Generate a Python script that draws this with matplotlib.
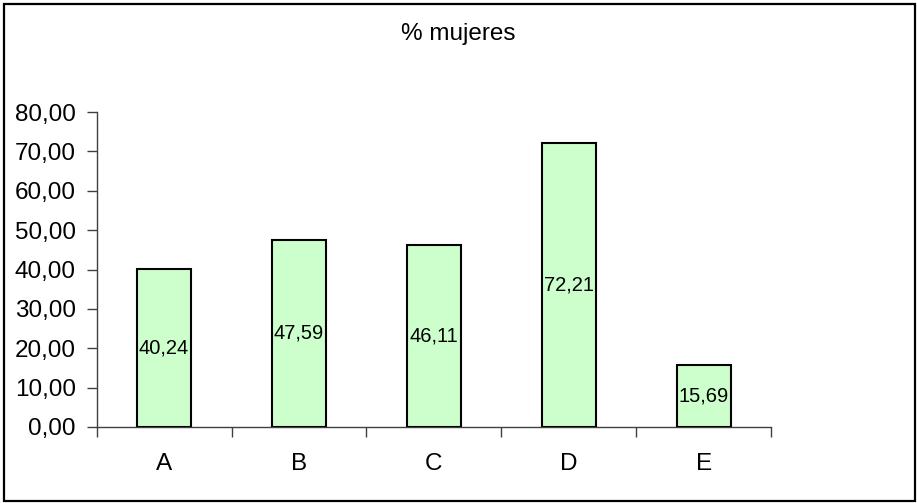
import matplotlib
matplotlib.use("Agg")
import matplotlib.pyplot as plt
from matplotlib.patches import Rectangle
from matplotlib.ticker import FixedLocator, FuncFormatter

plt.rcParams['font.family'] = ['Liberation Sans', 'DejaVu Sans']

categories = ["A", "B", "C", "D", "E"]
values = [40.24, 47.59, 46.11, 72.21, 15.69]
y_ticks = [0, 10, 20, 30, 40, 50, 60, 70, 80]
title = "% mujeres"


def comma(v, decimals=2):
    return f"{v:.{decimals}f}".replace(".", ",")


fig = plt.figure(figsize=(9.17, 5.03), dpi=100)
fig.patch.set_facecolor("white")

W, H = 917, 503
left, right, bottom, top = 96.5, 771.5, 427, 112
ax = fig.add_axes([left / W, (H - bottom) / H, (right - left) / W, (bottom - top) / H])

x = list(range(len(categories)))
bars = ax.bar(x, values, width=0.4, color="#CCFFCC", edgecolor="black",
              linewidth=1.5, zorder=3)
for xi, v in zip(x, values):
    ax.text(xi, v / 2, comma(v), ha="center", va="center", fontsize=14.5,
            color="black", zorder=4)

ax.set_xlim(-0.5, len(categories) - 0.5)
ax.set_ylim(0, 80)

ax.set_yticks(y_ticks)
ax.yaxis.set_major_formatter(FuncFormatter(lambda v, p: comma(v)))
ax.tick_params(axis="y", direction="out", length=7, width=1, color="#404040",
               labelsize=17.5, pad=8, labelcolor="black")

# category boundaries carry the tick marks, centres carry the labels
ax.xaxis.set_major_locator(FixedLocator([i - 0.5 for i in range(len(categories) + 1)]))
ax.xaxis.set_major_formatter(FuncFormatter(lambda v, p: ""))
ax.xaxis.set_minor_locator(FixedLocator(x))
ax.set_xticklabels(categories, minor=True)
ax.tick_params(axis="x", which="major", direction="out", length=7, width=1,
               color="#404040")
ax.tick_params(axis="x", which="minor", length=0, labelsize=17.5, pad=18.5,
               labelcolor="black")

for s in ("top", "right"):
    ax.spines[s].set_visible(False)
for s in ("left", "bottom"):
    ax.spines[s].set_color("#404040")
    ax.spines[s].set_linewidth(1)
ax.set_facecolor("white")

fig.text(458 / W, 1 - 34 / H, title, ha="center", va="center", fontsize=17.5)

# outer frame around the chart area
fx0, fx1, fy_top, fy_bot = 3.7, 915, 4.3, 501
fig.patches.append(Rectangle((fx0 / W, (H - fy_bot) / H), (fx1 - fx0) / W,
                             (fy_bot - fy_top) / H,
                             transform=fig.transFigure, fill=False,
                             edgecolor="black", linewidth=1.6))

fig.savefig("out.png", dpi=100)
